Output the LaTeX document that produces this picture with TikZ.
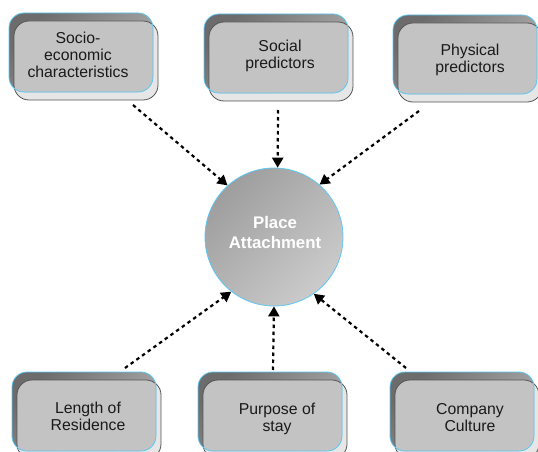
\documentclass[tikz,border=0pt]{standalone}
\usepackage{fontspec}
\setmainfont{Liberation Sans}
\usetikzlibrary{arrows.meta}

\definecolor{rimblue}{HTML}{5BC8F5}
\definecolor{edgegrey}{HTML}{555555}
\definecolor{facegrey}{HTML}{C3C3C3}
\definecolor{shadowgrey}{HTML}{E6E6E6}
\definecolor{backdark}{HTML}{6C6C6C}
\definecolor{backlight}{HTML}{B2B2B2}
\definecolor{inktext}{HTML}{1A1A1A}
\definecolor{hubdark}{HTML}{9E9E9E}
\definecolor{hublight}{HTML}{CBCBCB}

\tikzset{
  tilelabel/.style={font=\fontsize{15.8}{17}\selectfont, text=inktext, align=center, inner sep=0pt},
  hublabel/.style={font=\bfseries\fontsize{16.8}{20}\selectfont, text=white, align=center, inner sep=0pt},
  flow/.style={line width=2.2pt, dash pattern=on 3.5pt off 3.5pt,
               -{Triangle[length=10pt,width=11pt]}},
}

% one layered tile: #1 name, (#2,#3) top-left of the rimmed card, #4 text position, #5 text
\newcommand{\tile}[5]{%
  % lighter offset card behind
  \path[fill=shadowgrey, draw=edgegrey, line width=0.8pt, rounded corners=15pt]
    (#2+5,#3+8) rectangle ++(144,79);
  % darker rimmed card
  \path[top color=backdark, bottom color=backlight, shading angle=45, rounded corners=15pt]
    (#2,#3) rectangle ++(144,79);
  % grey face where the two cards overlap
  \begin{scope}
    \clip[rounded corners=15pt] (#2,#3) rectangle ++(144,79);
    \path[fill=facegrey, draw=edgegrey, line width=0.8pt, rounded corners=15pt]
      (#2+5,#3+8) rectangle ++(144,79);
  \end{scope}
  \draw[rimblue, line width=0.8pt, rounded corners=15pt] (#2,#3) rectangle ++(144,79);
  \node[tilelabel] (#1) at (#4) {#5};
}

\begin{document}
\begin{tikzpicture}[x=1pt, y=-1pt]
  \useasboundingbox (0,0) rectangle (538,452);

  \tile{socio}{9}{13}{78,55}{Socio-\\economic\\characteristics}
  \tile{social}{204}{14}{280,56}{Social\\predictors}
  \tile{physical}{393}{15}{470,60}{Physical\\predictors}
  \tile{length}{12}{372}{88,416}{Length of\\Residence}
  \tile{purpose}{198}{372}{277,419}{Purpose of\\stay}
  \tile{culture}{390}{372}{470,418}{Company\\Culture}

  % central hub
  \node[circle, minimum size=138pt, inner sep=0pt, draw=rimblue, line width=0.8pt,
        top color=hubdark, bottom color=hublight, shading angle=45] (pa) at (274,237) {};
  \node[hublabel] (palabel) at (275,232) {Place\\Attachment};

  % arrow tails
  \coordinate (s1) at (133,105);
  \coordinate (s2) at (278,110);
  \coordinate (s3) at (419,111);
  \coordinate (s4) at (125,368);
  \coordinate (s5) at (273,370);
  \coordinate (s6) at (406,368);

  \draw[flow] (s1) -- (pa.132);
  \draw[flow] (s2) -- (pa.87);
  \draw[flow] (s3) -- (pa.49);
  \draw[flow] (s4) -- (pa.232);
  \draw[flow] (s5) -- (pa.270);
  \draw[flow] (s6) -- (pa.305);
\end{tikzpicture}
\end{document}
